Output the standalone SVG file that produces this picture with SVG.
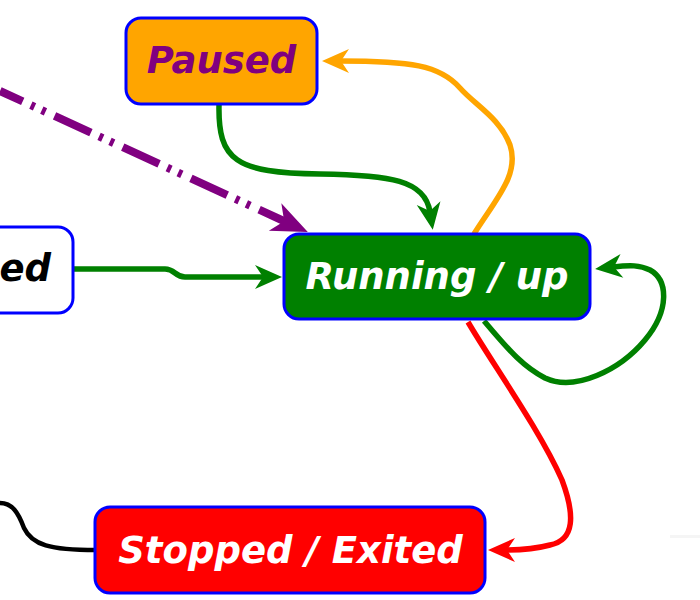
<svg xmlns="http://www.w3.org/2000/svg" width="700" height="600" viewBox="0 0 700 600">
  <style>
    .node rect { stroke: #0000ff; stroke-width: 3; }
    .node text { font-family: "DejaVu Sans", "Liberation Sans", sans-serif; font-weight: bold; font-style: oblique; font-size: 37px; text-anchor: middle; }
    .edge { fill: none; stroke-linecap: butt; }
  </style>
  <defs>
    <marker id="ah-green" markerUnits="userSpaceOnUse" viewBox="-10 -14 30 28" refX="0" refY="0" markerWidth="30" markerHeight="28" orient="auto" overflow="visible">
      <path d="M18,0 L-9,-12 L-1,0 L-9,12 Z" fill="#008000"/>
    </marker>
    <marker id="ah-orange" markerUnits="userSpaceOnUse" viewBox="-10 -14 30 28" refX="0" refY="0" markerWidth="30" markerHeight="28" orient="auto" overflow="visible">
      <path d="M18,0 L-9,-12 L-1,0 L-9,12 Z" fill="#ffa500"/>
    </marker>
    <marker id="ah-red" markerUnits="userSpaceOnUse" viewBox="-10 -14 30 28" refX="0" refY="0" markerWidth="30" markerHeight="28" orient="auto" overflow="visible">
      <path d="M18,0 L-9,-12 L-1,0 L-9,12 Z" fill="#ff0000"/>
    </marker>
    <marker id="ah-purple" markerUnits="userSpaceOnUse" viewBox="-14 -16 40 32" refX="0" refY="0" markerWidth="40" markerHeight="32" orient="auto" overflow="visible">
      <path d="M24,0 L-12,-15 L-2,0 L-12,15 Z" fill="#800080"/>
    </marker>
  </defs>

  <rect x="0" y="0" width="700" height="600" fill="#ffffff"/>
  <rect x="670" y="535" width="30" height="3" fill="#f5f5f5"/>

  <g id="connectors">
    <path class="edge" d="M0,91 L286,222" stroke="#800080" stroke-width="8" stroke-dasharray="40 9 4 8 4 10" stroke-dashoffset="15" marker-end="url(#ah-purple)"/>
    <path class="edge" d="M219,105 C218,160 235,173 320,174 C390,175 425,180 430,212" stroke="#008000" stroke-width="5.5" marker-end="url(#ah-green)"/>
    <path class="edge" d="M474,234 C495,200 520,175 510,145 C500,118 475,105 460,88 C440,65 410,61 340,61" stroke="#ffa500" stroke-width="5.5" marker-end="url(#ah-orange)"/>
    <path class="edge" d="M74,269 L165,269 C175,269 175,277 185,277 L264,277" stroke="#008000" stroke-width="5.5" marker-end="url(#ah-green)"/>
    <path class="edge" d="M484,321 C505,345 520,365 545,378 C575,392 620,370 645,340 C670,310 668,280 650,270 C640,265 630,265 613,267" stroke="#008000" stroke-width="5.5" marker-end="url(#ah-green)"/>
    <path class="edge" d="M468,322 C490,360 540,430 562,480 C575,515 575,540 550,545 C535,549 520,550 506,550" stroke="#ff0000" stroke-width="5.5" marker-end="url(#ah-red)"/>
    <path class="edge" d="M0,503 C12,503 18,512 24,528 C32,545 50,550 96,550" stroke="#000000" stroke-width="4.5"/>
  </g>

  <g id="node-paused" class="node">
    <rect x="126" y="18" width="191" height="86" rx="15" fill="#ffa500"/>
    <text x="221.5" y="73" fill="#800080">Paused</text>
  </g>
  <g id="node-created" class="node">
    <rect x="-20" y="227" width="93" height="86" rx="15" fill="#ffffff"/>
    <text x="51" y="281" fill="#000000" style="text-anchor:end">ed</text>
  </g>
  <g id="node-running" class="node">
    <rect x="284" y="234" width="306" height="85" rx="15" fill="#008000"/>
    <text x="437" y="289" fill="#ffffff">Running / up</text>
  </g>
  <g id="node-stopped" class="node">
    <rect x="95" y="507" width="390" height="86" rx="15" fill="#ff0000"/>
    <text x="290.5" y="563" fill="#ffffff">Stopped / Exited</text>
  </g>
</svg>
